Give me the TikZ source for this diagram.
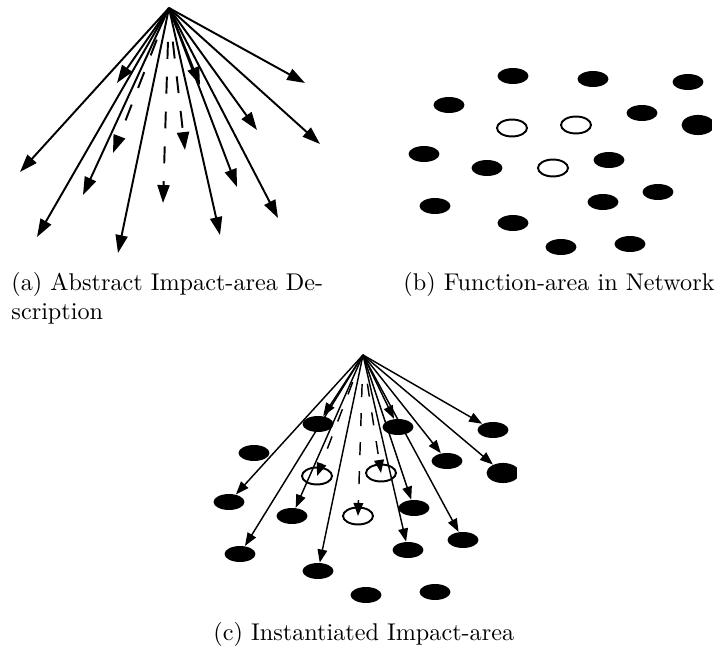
\documentclass[tikz,border=0pt]{standalone}
\usetikzlibrary{arrows.meta,shapes.geometric}
\begin{document}
\begin{tikzpicture}[x=0.4132pt,y=-0.4132pt,
  dot/.style={ellipse,fill=black,inner sep=0pt,minimum width=12.8pt,minimum height=6.6pt},
  bigdot/.style={dot,minimum width=13.6pt,minimum height=8.3pt},
  ring/.style={ellipse,draw=black,line width=0.8pt,inner sep=0pt,minimum width=12.4pt,minimum height=7pt},
  rayA/.style={line width=0.8pt,-{Triangle[length=7.4pt,width=5pt]}},
  dashA/.style={rayA,dash pattern=on 7pt off 7.4pt,dash phase=7pt,shorten <=6.6pt},
  rayC/.style={line width=0.6pt,-{Triangle[length=5.4pt,width=4pt]}},
  dashC/.style={rayC,dash pattern=on 5.4pt off 6.6pt,dash phase=5.4pt,shorten <=5.4pt},
  captext/.style={anchor=base west,inner sep=0pt}]
\useasboundingbox (0,0) rectangle (719,650);

% (a) abstract fan of rays from a single source
\coordinate (apexA) at (169,8);
\foreach \n/\x/\y in {1/20/172, 2/37/237, 3/118/253, 4/83/195, 5/117/83, 6/200/85,
                      7/220/235, 8/237/187, 9/278/218, 10/257/130, 11/320/144, 12/305/83}
  {\coordinate (a\n) at (\x,\y); \draw[rayA] (apexA) -- (a\n);}
\foreach \n/\x/\y in {13/113/153, 14/163/203, 15/185/150}
  {\coordinate (a\n) at (\x,\y); \draw[dashA] (apexA) -- (a\n);}

% (b) network nodes: filled = ordinary, hollow = function area
\foreach \n/\x/\y in {1/513/76, 2/593/79, 3/688/82, 4/449/105, 5/642/113,
                      7/424/154, 8/487/168, 9/609/160, 10/435/206, 11/658/192,
                      12/603/202, 13/513/223, 14/561/247, 15/630/244}
  {\node[dot] (b\n) at (\x,\y) {};
   \node[dot] (c\n) at (\x-195,\y+348) {};}
\foreach \n/\x/\y in {1/512/128, 2/576/125, 3/553/168}
  {\node[ring] (bo\n) at (\x,\y) {};
   \node[ring] (co\n) at (\x-195,\y+348) {};}
\begin{scope}
  \clip (600,100) rectangle (712,150);
  \node[bigdot] (b6) at (698,125) {};
\end{scope}
\begin{scope}
  \clip (405,448) rectangle (517,498);
  \node[bigdot] (c6) at (503,473) {};
\end{scope}

% (c) the fan laid over the network
\coordinate (apexC) at (363,355);
\foreach \t in {7,10,13,8,1,2,12,9,11,5,6,3}
  \draw[rayC] (apexC) -- (c\t);
\foreach \t in {1,2,3}
  \draw[dashC] (apexC) -- (co\t.center);

% captions
\node[captext] (capA1) at (11,291) {(a) Abstract Impact-area De-};
\node[captext] (capA2) at (11,320) {scription};
\node[captext] (capB) at (403,291) {(b) Function-area in Network};
\node[captext] (capC) at (213,641) {(c) Instantiated Impact-area};
\end{tikzpicture}
\end{document}
